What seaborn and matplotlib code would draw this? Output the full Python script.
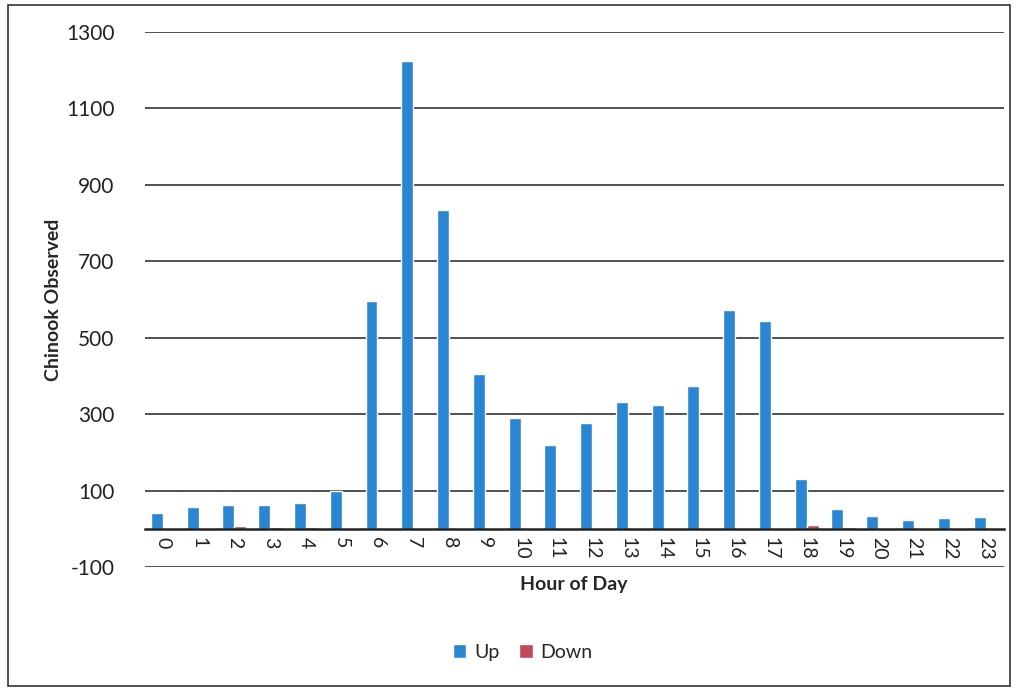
import matplotlib
matplotlib.use("Agg")
import matplotlib.pyplot as plt
import seaborn as sns
import pandas as pd
from matplotlib.patches import Rectangle

hours = [str(h) for h in range(24)]
up = [40, 56, 61, 61, 67, 98, 595, 1225, 833, 405, 290, 218, 278, 333,
      323, 373, 573, 545, 130, 52, 33, 22, 28, 32]
down = [3, 3, 8, 5, 5, 0, 0, 0, 0, 0, 1, 0, 1, 1,
        0, 0, 0, 0, 9, 5, 1, 3, 1, 2]
yticks = [-100, 100, 300, 500, 700, 900, 1100, 1300]

df = pd.DataFrame({
    "hour": hours * 2,
    "count": up + down,
    "dir": ["Up"] * 24 + ["Down"] * 24,
})

sns.set_theme(style="white")
plt.rcParams["font.family"] = ["Lato", "DejaVu Sans"]
plt.rcParams["axes.unicode_minus"] = False

fig = plt.figure(figsize=(10.16, 6.88), dpi=100)
ax = fig.add_axes([0.1427, 0.1759, 0.845, 0.7776])

sns.barplot(data=df, x="hour", y="count", hue="dir", order=hours,
            palette={"Up": "#2a86d2", "Down": "#c2485a"}, width=0.67,
            saturation=1, ax=ax)

ax.set_ylim(-100, 1300)
ax.set_xlim(-0.5, 23.5)
ax.set_yticks(yticks)
for y in yticks:
    ax.axhline(y, color="#333333", lw=1.2, zorder=0)

for s in ["left", "right", "top"]:
    ax.spines[s].set_visible(False)
ax.spines["bottom"].set_position(("data", 0))
ax.spines["bottom"].set_color("#222222")
ax.spines["bottom"].set_linewidth(1.8)

ax.tick_params(axis="y", labelsize=15, length=0, pad=22, colors="#222222")
ax.tick_params(axis="x", labelsize=14, length=0, pad=6, colors="#222222")
for lab in ax.get_xticklabels():
    lab.set_rotation(270)
    lab.set_va("top")
    lab.set_ha("center")

ax.set_ylabel("Chinook Observed", fontsize=14, fontweight="bold", labelpad=3)
ax.set_xlabel("Hour of Day", fontsize=14, fontweight="bold", labelpad=12)

sns.move_legend(ax, "center", bbox_to_anchor=(0.44, -0.159), ncol=2,
                frameon=False, title=None, fontsize=14, handlelength=0.7,
                handleheight=0.7, columnspacing=1.0, handletextpad=0.4)

fig.patches.append(Rectangle((0.008, 0.003), 0.986, 0.99, transform=fig.transFigure,
                             fill=False, edgecolor="#333333", lw=1.2))

fig.savefig("out.png", dpi=100, facecolor="white")
